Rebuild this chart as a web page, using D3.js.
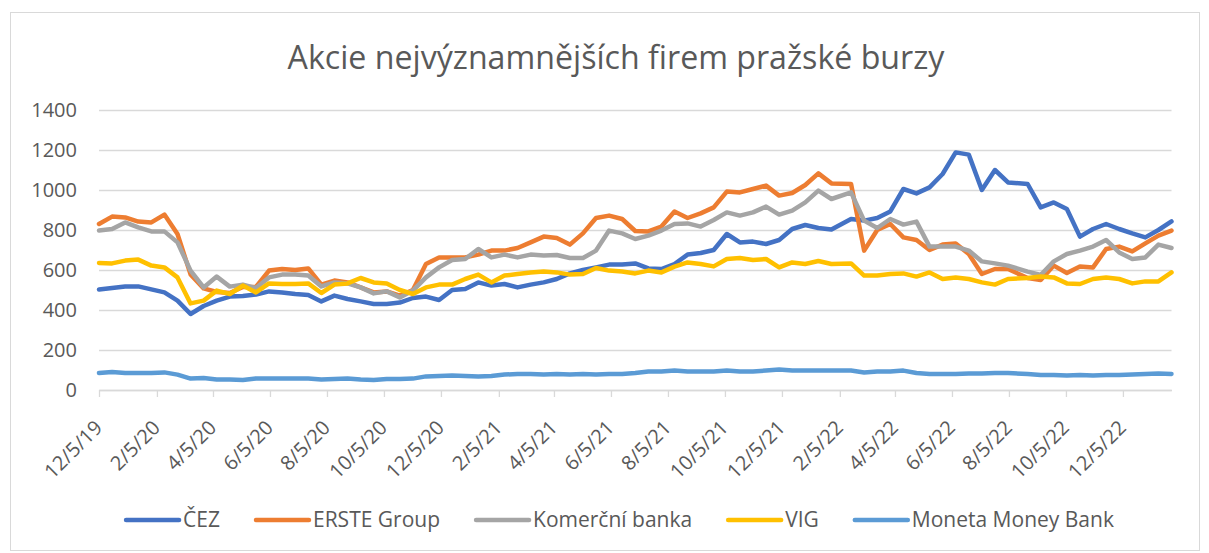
<!DOCTYPE html>
<html>
<head>
<meta charset="utf-8">
<script src="https://cdn.jsdelivr.net/npm/d3@7"></script>
<style>
  body { margin: 0; background: #fff; }
  text { font-family: "Open Sans", "Noto Sans", sans-serif; fill: #595959; }
</style>
</head>
<body>
<div id="chart"></div>
<script>
// dates of the observations (roughly every two weeks)
var dates = [
  "2019-12-05","2019-12-19","2020-01-02","2020-01-16","2020-01-30","2020-02-13","2020-02-27","2020-03-12",
  "2020-03-26","2020-04-09","2020-04-23","2020-05-07","2020-05-21","2020-06-04","2020-06-18","2020-07-02",
  "2020-07-16","2020-07-30","2020-08-13","2020-08-27","2020-09-10","2020-09-24","2020-10-08","2020-10-22",
  "2020-11-05","2020-11-19","2020-12-03","2020-12-17","2020-12-31","2021-01-14","2021-01-28","2021-02-11",
  "2021-02-25","2021-03-11","2021-03-25","2021-04-08","2021-04-22","2021-05-06","2021-05-20","2021-06-03",
  "2021-06-17","2021-07-01","2021-07-15","2021-07-29","2021-08-12","2021-08-26","2021-09-09","2021-09-23",
  "2021-10-07","2021-10-21","2021-11-04","2021-11-18","2021-12-02","2021-12-16","2021-12-30","2022-01-13",
  "2022-01-27","2022-02-17","2022-03-03","2022-03-17","2022-03-31","2022-04-14","2022-04-28","2022-05-12",
  "2022-05-26","2022-06-09","2022-06-23","2022-07-07","2022-07-21","2022-08-04","2022-08-25","2022-09-08",
  "2022-09-22","2022-10-06","2022-10-20","2022-11-03","2022-11-17","2022-12-01","2022-12-15","2022-12-29",
  "2023-01-12","2023-01-26"
];

var cez = [
  502,510,517,518,503,488,447,380,420,447,467,470,477,493,
  488,480,475,443,472,455,443,430,430,437,460,467,450,500,
  505,538,522,530,513,527,538,555,583,600,613,627,627,633,
  608,605,630,677,685,700,780,738,742,730,750,805,825,810,
  802,855,847,860,893,1005,983,1013,1080,1188,1177,1000,1100,
  1038,1030,913,938,905,767,805,830,805,783,763,800,843
];
var erste = [
  830,867,863,842,838,877,780,578,508,490,485,515,515,597,
  605,600,608,527,547,538,513,488,493,472,500,630,663,663,
  663,677,697,697,710,738,767,760,727,783,860,872,855,795,
  793,817,892,860,883,913,992,988,1005,1022,972,985,1025,1083,
  1033,1030,697,800,830,763,750,700,727,733,680,580,605,
  605,560,550,622,585,617,613,705,717,693,733,772,797
];
var komercni = [
  797,805,838,813,793,793,738,597,513,567,517,527,510,563,
  577,577,572,518,538,533,513,483,493,463,497,563,613,650,
  655,705,663,677,663,677,672,675,660,660,697,797,783,755,
  772,797,830,833,817,850,888,872,888,917,877,897,938,997,
  955,988,847,810,855,827,842,717,717,717,697,643,633,
  622,592,575,643,680,697,717,750,688,655,663,727,710
];
var vig = [
  635,633,647,652,622,613,563,433,447,497,480,522,488,533,
  530,530,533,485,527,533,560,538,533,500,480,513,527,527,
  555,577,538,572,580,588,592,588,577,580,610,597,592,583,
  597,588,617,638,630,618,655,660,650,655,613,638,630,645,
  630,633,572,572,580,583,567,588,555,563,555,538,527,
  555,560,567,563,533,530,555,563,555,533,543,543,588
];
var moneta = [
  85,90,85,85,85,88,77,57,60,52,52,50,58,57,
  57,57,57,52,55,57,52,50,55,55,57,68,70,72,
  70,68,70,77,80,80,77,80,77,80,77,80,80,85,
  92,92,97,92,92,93,97,92,93,97,102,97,97,97,
  97,97,88,92,92,97,85,80,80,80,83,83,85,
  85,80,75,75,72,75,72,75,75,77,80,83,80
];

var seriesNames = ["ČEZ", "ERSTE Group", "Komerční banka", "VIG", "Moneta Money Bank"];
var seriesValues = [cez, erste, komercni, vig, moneta];
var seriesColors = ["#4472C4", "#ED7D31", "#A5A5A5", "#FFC000", "#5B9BD5"];

var xTickLabels = ["12/5/19","2/5/20","4/5/20","6/5/20","8/5/20","10/5/20","12/5/20",
  "2/5/21","4/5/21","6/5/21","8/5/21","10/5/21","12/5/21",
  "2/5/22","4/5/22","6/5/22","8/5/22","10/5/22","12/5/22"];
var yTicks = [0, 200, 400, 600, 800, 1000, 1200, 1400];

var title = "Akcie nejvýznamnějších firem pražské burzy";

// overall size and plot area
var W = 1209, H = 553;
var margin = {top: 110, right: 38, bottom: 163, left: 99},
    width = 1171.5 - margin.left,
    height = 390 - margin.top;

var parseDay = d3.timeParse("%Y-%m-%d");
var parseTick = d3.timeParse("%m/%d/%y");
var dateList = dates.map(parseDay);
var tickDates = xTickLabels.map(parseTick);

var svg = d3.select("#chart").append("svg")
    .attr("width", W)
    .attr("height", H);

// chart border
svg.append("rect")
    .attr("x", 10.5).attr("y", 12.5)
    .attr("width", 1189).attr("height", 538)
    .attr("fill", "none")
    .attr("stroke", "#d9d9d9");

// title, stretched to the width of the original
var titleText = svg.append("text")
    .attr("x", 616)
    .attr("y", 69)
    .attr("text-anchor", "middle")
    .style("font-size", "30px")
    .text(title);
var tw = titleText.node().getComputedTextLength();
titleText.style("font-size", (30 * 657 / tw) + "px");

var g = svg.append("g")
    .attr("transform", "translate(" + margin.left + "," + margin.top + ")");

var x = d3.scaleTime()
    .domain([dateList[0], dateList[dateList.length - 1]])
    .range([0, width]);

var y = d3.scaleLinear()
    .domain([0, 1400])
    .range([height, 0]);

// horizontal gridlines
g.append("g")
    .attr("class", "grid")
    .call(d3.axisLeft(y).tickValues(yTicks).tickSize(-width).tickFormat(""))
    .call(function(s) {
      s.select(".domain").remove();
      s.selectAll("line").attr("stroke", "#d9d9d9").attr("stroke-width", 1.3);
    });

// y axis labels
g.append("g")
    .attr("class", "y axis")
    .call(d3.axisLeft(y).tickValues(yTicks).tickSize(0).tickPadding(22).tickFormat(d3.format("d")))
    .call(function(s) {
      s.select(".domain").remove();
      s.selectAll("text")
        .style("font-size", "20px")
        .attr("fill", "#595959");
    });

// x axis with rotated date labels
g.append("g")
    .attr("class", "x axis")
    .attr("transform", "translate(0," + height + ")")
    .call(d3.axisBottom(x).tickValues(tickDates).tickSize(7).tickSizeOuter(0)
      .tickFormat(d3.timeFormat("%-m/%-d/%y")))
    .call(function(s) {
      s.select(".domain").attr("stroke", "#d9d9d9").attr("stroke-width", 1.3);
      s.selectAll("line").attr("stroke", "#d9d9d9").attr("stroke-width", 1.3);
      s.selectAll("text")
        .style("font-size", "20px")
        .attr("fill", "#595959")
        .style("text-anchor", "end")
        .attr("x", 0)
        .attr("y", 0)
        .attr("dx", 0)
        .attr("dy", 0)
        .attr("transform", "translate(4,39) rotate(-45)");
    });

// series lines
var line = d3.line()
    .x(function(d, i) { return x(dateList[i]); })
    .y(function(d) { return y(d); });

seriesValues.forEach(function(vals, k) {
  g.append("path")
      .datum(vals)
      .attr("fill", "none")
      .attr("stroke", seriesColors[k])
      .attr("stroke-width", 4.5)
      .attr("stroke-linejoin", "round")
      .attr("stroke-linecap", "round")
      .attr("d", line);
});

// legend
var legend = svg.append("g").attr("class", "legend");
var lx = 0;
seriesNames.forEach(function(name, k) {
  var item = legend.append("g").attr("transform", "translate(" + lx + ",0)");
  item.append("line")
      .attr("x1", 2).attr("x2", 55)
      .attr("y1", 0).attr("y2", 0)
      .attr("stroke", seriesColors[k])
      .attr("stroke-width", 4.5)
      .attr("stroke-linecap", "round");
  var t = item.append("text")
      .attr("x", 59)
      .attr("y", 0)
      .attr("dy", "0.35em")
      .style("font-size", "21px")
      .text(name);
  lx += 59 + t.node().getComputedTextLength() + 34;
});
var legendWidth = lx - 34;
legend.attr("transform", "translate(" + (619 - legendWidth / 2) + ",520)");
</script>
</body>
</html>
